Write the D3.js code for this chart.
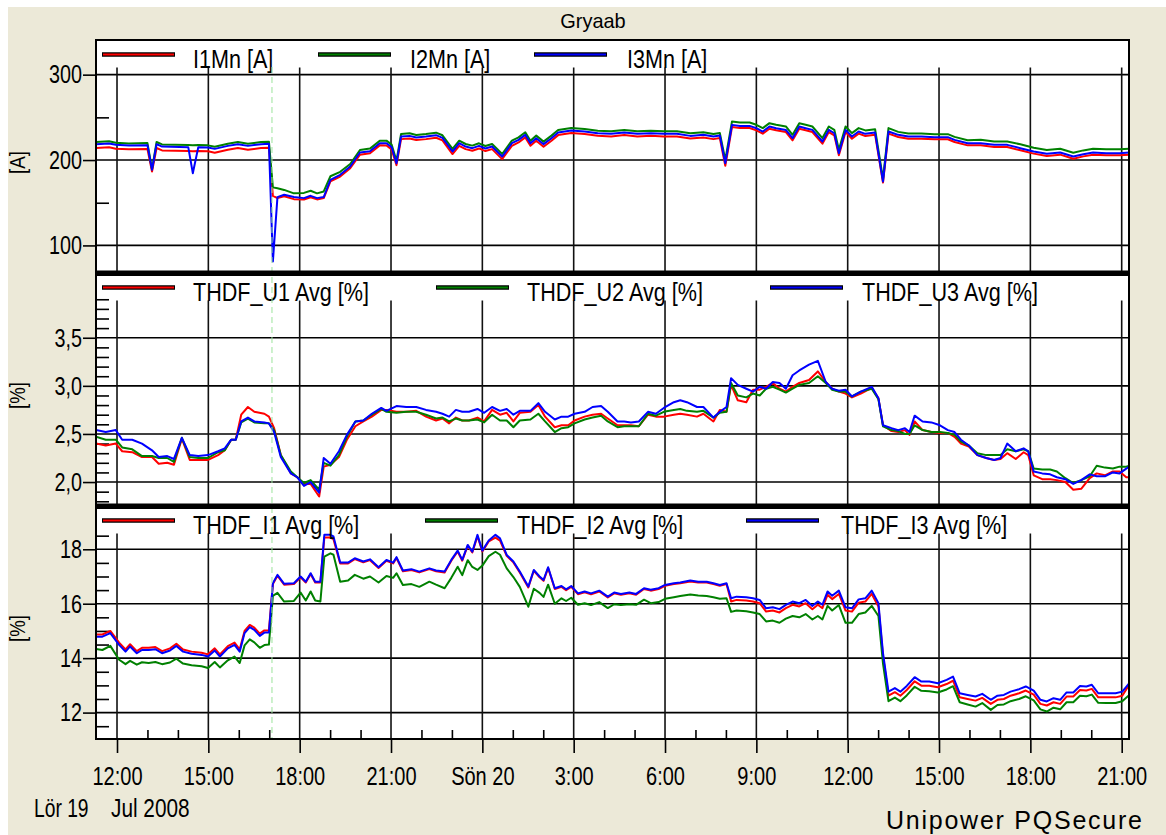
<!DOCTYPE html>
<html>
<head>
<meta charset="utf-8">
<script src="https://cdn.jsdelivr.net/npm/d3@7"></script>
<style>
  html, body { margin: 0; padding: 0; background: #fff; }
  svg { display: block; }
  text { font-family: "Liberation Sans", Arial, sans-serif; fill: #000; }
</style>
</head>
<body>
<svg id="chart" width="1166" height="835"></svg>
<script>
// hours are counted from Lör 19 Jul 2008 12:00
const xTickHours = [0, 3, 6, 9, 12, 15, 18, 21, 24, 27, 30, 33];
const xTickLabels = ["12:00", "15:00", "18:00", "21:00", "Sön 20", "3:00", "6:00", "9:00", "12:00", "15:00", "18:00", "21:00"];
const cursorHour = 5.09;

// panel 1: I1Mn / I2Mn / I3Mn [A]
const p1Names = ["I1Mn [A]", "I2Mn [A]", "I3Mn [A]"];
const p1Major = [100, 200, 300];
const p1Minor = [150, 250];
const p1Hours = [-0.69,-0.26,-0.04,0.39,1.00,1.15,1.30,1.48,2.34,2.49,
  2.67,2.99,3.21,3.64,3.97,4.30,4.73,4.99,5.12,5.27,
  5.49,5.81,6.14,6.36,6.57,6.79,7.01,7.33,7.66,7.98,
  8.31,8.63,8.85,9.02,9.18,9.33,9.61,9.83,10.15,10.48,
  10.69,11.02,11.24,11.45,11.67,11.89,12.10,12.32,12.65,12.97,
  13.19,13.41,13.58,13.77,14.01,14.27,14.49,14.92,15.36,15.79,
  16.23,16.66,17.09,17.53,17.96,18.39,18.83,19.26,19.59,19.80,
  19.98,20.20,20.46,20.78,21.00,21.21,21.43,21.65,21.97,22.19,
  22.41,22.62,22.84,23.17,23.38,23.56,23.71,23.93,24.14,24.36,
  24.58,24.90,25.16,25.34,25.66,25.99,26.42,26.85,27.29,27.51,
  27.94,28.37,28.81,29.24,29.67,30.11,30.54,30.98,31.41,31.74,
  32.06,32.49,32.93,33.25];
const p1I1 = [214.1,214.9,213.3,212.5,212.9,186.6,214.1,211.3,210.6,210.4,
  210.6,210.2,208.6,212.1,214.1,212.1,214.1,214.5,158.0,155.4,
  157.5,154.2,153.8,156.5,153.9,155.4,175.0,180.7,190.4,206.3,
  207.9,217.2,217.0,212.3,194.0,224.5,225.3,223.4,224.5,226.1,
  223.0,207.0,216.7,212.8,210.9,213.6,210.5,212.8,201.1,216.7,
  220.6,226.5,216.7,222.6,215.6,222.6,229.2,231.6,230.4,228.4,
  227.7,229.2,227.7,228.4,227.7,227.7,225.3,226.5,224.5,225.7,
  193.3,238.7,237.5,237.5,234.8,230.9,236.7,234.8,232.8,223.1,
  236.7,234.8,232.8,219.2,232.8,228.9,205.5,232.8,225.0,230.9,
  228.2,229.7,173.6,230.9,227.0,225.0,225.0,224.3,224.3,221.1,
  217.2,217.2,215.3,215.3,211.4,207.5,204.8,206.3,201.6,204.3,
  206.3,205.5,205.5,206.3];
const p1I2 = [221.1,221.9,220.3,219.5,219.9,189.3,221.1,218.3,217.6,217.4,
  217.6,217.2,215.6,219.1,221.1,219.1,221.1,221.5,168.0,166.9,
  165.0,161.0,161.5,164.0,161.0,163.2,181.0,186.2,195.4,211.8,
  213.4,222.7,222.7,218.1,199.0,230.5,231.3,229.4,230.5,232.1,
  229.0,213.0,222.7,218.8,216.9,219.6,216.5,218.8,207.1,222.7,
  226.6,232.5,222.7,228.6,221.6,228.6,235.2,237.6,236.4,234.4,
  233.7,235.2,233.7,234.4,233.7,233.7,231.3,232.5,230.5,231.7,
  200.0,245.2,244.0,244.0,241.3,237.4,243.2,241.3,239.3,229.6,
  243.2,241.3,239.3,225.7,239.3,235.4,212.0,239.3,231.5,237.4,
  234.7,236.2,178.0,237.4,233.0,231.0,231.0,230.3,230.3,227.1,
  223.2,223.7,221.8,221.8,218.4,214.5,211.8,213.3,208.6,211.3,
  213.3,212.5,212.5,213.3];
const p1I3 = [218.6,219.4,217.8,217.0,217.4,188.5,218.6,215.8,215.1,184.6,
  215.1,214.7,213.1,216.6,218.6,216.6,218.6,219.0,81.3,156.6,
  159.3,156.6,155.4,158.1,155.4,156.6,176.8,182.7,192.4,208.8,
  210.4,219.7,219.7,215.1,196.3,227.5,228.3,226.4,227.5,229.1,
  226.0,210.0,219.7,215.8,213.9,216.6,213.5,215.8,204.1,219.7,
  223.6,229.5,219.7,225.6,218.6,225.6,232.2,234.6,233.4,231.4,
  230.7,232.2,230.7,231.4,230.7,230.7,228.3,229.5,227.5,228.7,
  196.3,241.2,240.0,240.0,237.3,233.4,239.2,237.3,235.3,225.6,
  239.2,237.3,235.3,221.7,235.3,231.4,208.0,235.3,227.5,233.4,
  230.7,232.2,174.9,233.4,229.5,227.5,227.5,226.8,226.8,223.6,
  219.7,219.7,217.8,217.8,213.9,210.0,207.3,208.8,204.1,206.8,
  208.8,208.0,208.0,208.8];

// panel 2: THDF_U1..U3 Avg [%]
const p2Names = ["THDF_U1 Avg [%]", "THDF_U2 Avg [%]", "THDF_U3 Avg [%]"];
const p2Major = [2.0, 2.5, 3.0, 3.5];
const p2Minor = [1.8,1.9,2.1,2.2,2.3,2.4,2.6,2.7,2.8,2.9,3.1,3.2,3.3,3.4,3.6,3.7,3.8,3.9,4.0,4.1];
const p2Hours = [-0.69,-0.37,-0.04,0.17,0.50,0.82,1.15,1.37,1.65,1.87,
  2.13,2.39,2.67,2.99,3.32,3.54,3.75,3.90,4.08,4.30,
  4.51,4.84,4.99,5.16,5.38,5.71,5.92,6.14,6.36,6.64,
  6.79,7.01,7.29,7.55,7.83,8.09,8.37,8.68,8.85,9.18,
  9.50,9.83,10.15,10.48,10.69,10.91,11.13,11.34,11.56,11.84,
  12.06,12.32,12.58,12.80,13.02,13.23,13.58,13.84,14.06,14.38,
  14.60,14.82,15.03,15.36,15.62,15.90,16.12,16.44,16.66,16.88,
  17.14,17.44,17.70,17.96,18.29,18.50,18.72,19.05,19.26,19.59,
  19.80,20.02,20.17,20.39,20.67,20.89,21.11,21.32,21.54,21.76,
  21.97,22.19,22.41,22.73,23.02,23.28,23.49,23.71,23.93,24.14,
  24.43,24.79,25.01,25.16,25.44,25.66,25.88,26.03,26.20,26.46,
  26.75,27.03,27.29,27.51,27.72,27.98,28.26,28.55,28.81,29.02,
  29.24,29.52,29.78,29.93,30.11,30.39,30.65,30.87,31.15,31.41,
  31.67,31.95,32.18,32.45,32.71,32.93,33.15,33.25];
const p2U1 = [2.40,2.38,2.40,2.32,2.31,2.26,2.26,2.19,2.20,2.18,
  2.45,2.23,2.23,2.23,2.28,2.33,2.44,2.44,2.70,2.78,
  2.73,2.71,2.68,2.56,2.28,2.09,2.05,1.98,1.98,1.85,
  2.16,2.18,2.26,2.44,2.58,2.63,2.68,2.75,2.75,2.73,
  2.73,2.74,2.68,2.64,2.66,2.61,2.67,2.64,2.64,2.67,
  2.63,2.75,2.70,2.72,2.63,2.72,2.73,2.80,2.68,2.57,
  2.59,2.59,2.64,2.68,2.70,2.71,2.66,2.59,2.59,2.59,
  2.58,2.70,2.68,2.68,2.70,2.71,2.70,2.68,2.71,2.63,
  2.75,2.73,3.01,2.85,2.83,2.96,2.96,2.99,3.03,2.97,
  2.94,2.99,3.03,3.06,3.15,3.04,2.97,2.94,2.92,2.88,
  2.92,2.98,2.87,2.59,2.53,2.52,2.54,2.49,2.63,2.54,
  2.52,2.51,2.51,2.47,2.40,2.37,2.28,2.25,2.23,2.24,
  2.30,2.24,2.31,2.28,2.07,2.03,2.03,2.02,2.00,1.92,
  1.93,2.04,2.09,2.07,2.11,2.11,2.05,2.05];
const p2U2 = [2.47,2.44,2.44,2.36,2.34,2.27,2.27,2.25,2.25,2.21,
  2.46,2.26,2.25,2.25,2.31,2.33,2.44,2.44,2.62,2.66,
  2.62,2.61,2.61,2.54,2.28,2.11,2.05,1.99,2.02,1.92,
  2.20,2.17,2.28,2.47,2.63,2.64,2.70,2.76,2.73,2.72,
  2.73,2.73,2.70,2.66,2.67,2.63,2.66,2.64,2.64,2.65,
  2.62,2.70,2.64,2.64,2.57,2.64,2.65,2.71,2.63,2.52,
  2.56,2.57,2.61,2.65,2.67,2.69,2.63,2.57,2.58,2.58,
  2.58,2.71,2.69,2.73,2.75,2.76,2.74,2.73,2.74,2.67,
  2.72,2.73,3.03,2.90,2.88,2.92,2.90,2.97,2.99,2.96,
  2.93,2.97,3.01,3.03,3.10,3.03,2.96,2.94,2.94,2.89,
  2.94,2.97,2.86,2.58,2.54,2.53,2.50,2.50,2.59,2.54,
  2.52,2.52,2.51,2.49,2.42,2.38,2.30,2.28,2.28,2.28,
  2.34,2.32,2.34,2.32,2.14,2.13,2.13,2.11,2.04,1.99,
  2.02,2.06,2.17,2.15,2.14,2.16,2.16,2.17];
const p2U3 = [2.54,2.52,2.54,2.44,2.44,2.40,2.33,2.26,2.27,2.24,
  2.46,2.28,2.27,2.28,2.32,2.35,2.44,2.44,2.63,2.67,
  2.63,2.62,2.61,2.52,2.26,2.09,2.05,1.96,2.00,1.89,
  2.25,2.19,2.32,2.49,2.63,2.64,2.71,2.77,2.74,2.79,
  2.78,2.78,2.75,2.73,2.71,2.68,2.75,2.73,2.73,2.76,
  2.72,2.78,2.74,2.76,2.70,2.74,2.74,2.82,2.73,2.65,
  2.68,2.68,2.71,2.73,2.78,2.79,2.73,2.63,2.63,2.62,
  2.63,2.73,2.71,2.77,2.83,2.85,2.83,2.78,2.78,2.67,
  2.73,2.78,3.08,3.01,2.97,2.94,2.99,2.97,3.04,3.03,
  2.97,3.11,3.16,3.22,3.26,3.04,2.97,2.95,2.96,2.89,
  2.94,2.99,2.87,2.59,2.56,2.54,2.56,2.52,2.69,2.63,
  2.62,2.59,2.54,2.52,2.44,2.38,2.28,2.25,2.23,2.25,
  2.40,2.32,2.35,2.32,2.11,2.09,2.08,2.05,2.03,1.98,
  2.02,2.08,2.06,2.06,2.10,2.09,2.14,2.16];

// panel 3: THDF_I1..I3 Avg [%]
const p3Names = ["THDF_I1 Avg [%]", "THDF_I2 Avg [%]", "THDF_I3 Avg [%]"];
const p3Major = [12, 14, 16, 18];
const p3Minor = [11.5,12.5,13,13.5,14.5,15,15.5,16.5,17,17.5,18.5,19,19.5];
const p3Hours = [-0.69,-0.48,-0.22,0.07,0.28,0.43,0.65,0.82,1.04,1.26,
  1.48,1.74,1.95,2.17,2.45,2.78,2.99,3.21,3.38,3.64,
  3.86,4.03,4.19,4.36,4.51,4.69,4.84,4.99,5.12,5.27,
  5.49,5.81,6.03,6.20,6.36,6.51,6.68,6.81,7.01,7.11,
  7.33,7.59,7.81,8.09,8.31,8.59,8.85,9.07,9.18,9.39,
  9.67,9.93,10.26,10.48,10.76,10.98,11.19,11.34,11.52,11.67,
  11.84,12.00,12.21,12.43,12.58,12.80,13.02,13.23,13.51,13.69,
  13.88,14.01,14.16,14.38,14.60,14.75,14.92,15.14,15.36,15.57,
  15.84,16.12,16.33,16.55,16.83,17.05,17.31,17.53,17.79,18.00,
  18.29,18.50,18.83,19.09,19.37,19.59,19.80,20.02,20.17,20.35,
  20.67,20.89,21.11,21.32,21.54,21.76,21.97,22.19,22.41,22.62,
  22.84,23.02,23.17,23.34,23.49,23.71,23.93,24.14,24.36,24.58,
  24.79,25.01,25.16,25.34,25.55,25.73,25.94,26.20,26.42,26.68,
  26.96,27.25,27.46,27.68,27.94,28.20,28.42,28.70,28.92,29.13,
  29.35,29.63,29.85,30.11,30.33,30.54,30.76,30.98,31.19,31.41,
  31.63,31.84,32.02,32.23,32.49,32.80,33.02,33.25];
const p3I1 = [14.87,14.87,15.00,14.57,14.32,14.51,14.26,14.38,14.38,14.41,
  14.26,14.36,14.53,14.32,14.24,14.20,14.14,14.36,14.14,14.44,
  14.57,14.32,15.00,15.22,15.12,14.90,15.02,15.02,16.72,17.03,
  16.70,16.72,16.97,16.78,17.09,16.78,16.78,18.43,18.43,18.37,
  17.48,17.48,17.64,17.52,17.60,17.31,17.58,17.48,17.68,17.19,
  17.24,17.15,17.27,17.19,17.15,17.58,17.92,17.58,18.13,17.88,
  18.48,17.92,18.29,18.43,18.32,17.76,17.52,17.15,16.60,17.21,
  16.97,16.84,17.31,16.54,16.62,16.50,16.62,16.35,16.42,16.35,
  16.45,16.23,16.38,16.33,16.38,16.33,16.54,16.48,16.54,16.66,
  16.72,16.75,16.82,16.78,16.78,16.72,16.66,16.72,16.08,16.14,
  16.12,16.08,16.02,15.71,15.75,15.68,15.84,15.96,15.90,16.02,
  15.80,15.96,15.84,16.33,16.17,16.36,15.75,15.71,16.04,16.08,
  16.36,15.90,14.08,12.62,12.75,12.62,12.83,13.15,12.99,12.99,
  12.93,13.05,13.17,12.56,12.50,12.44,12.54,12.32,12.47,12.50,
  12.62,12.71,12.81,12.66,12.32,12.26,12.38,12.32,12.59,12.59,
  12.83,12.81,12.87,12.56,12.56,12.56,12.62,13.03];
const p3I2 = [14.34,14.30,14.45,13.94,13.78,13.90,13.76,13.85,13.82,13.86,
  13.78,13.84,13.98,13.80,13.74,13.70,13.64,13.86,13.66,13.92,
  14.06,13.82,14.47,14.69,14.58,14.38,14.48,14.50,16.29,16.40,
  16.08,16.10,16.41,16.12,16.45,16.12,16.08,17.73,17.85,17.80,
  16.81,16.85,17.06,16.92,17.00,16.78,17.02,16.95,17.12,16.69,
  16.72,16.62,16.81,16.70,16.57,16.95,17.36,17.05,17.60,17.35,
  17.24,17.40,17.75,17.91,17.80,17.30,16.98,16.62,15.89,16.55,
  16.40,16.25,16.70,16.00,16.20,16.10,16.22,15.96,16.02,15.95,
  16.06,15.84,15.98,15.95,15.98,15.96,16.15,16.02,16.06,16.18,
  16.24,16.28,16.34,16.30,16.28,16.24,16.18,16.20,15.70,15.75,
  15.72,15.68,15.62,15.35,15.38,15.30,15.45,15.55,15.50,15.62,
  15.42,15.55,15.42,15.92,15.75,15.95,15.30,15.30,15.62,15.68,
  15.92,15.55,13.80,12.42,12.55,12.42,12.63,12.95,12.80,12.78,
  12.74,12.85,12.97,12.38,12.30,12.22,12.35,12.10,12.28,12.30,
  12.42,12.50,12.60,12.45,12.12,12.04,12.18,12.12,12.38,12.38,
  12.62,12.60,12.66,12.36,12.35,12.35,12.42,12.65];
const p3I3 = [14.79,14.79,14.92,14.49,14.24,14.43,14.18,14.30,14.30,14.33,
  14.18,14.28,14.45,14.24,14.16,14.12,14.06,14.28,14.06,14.36,
  14.49,14.24,14.92,15.14,15.04,14.82,14.94,14.94,16.75,17.06,
  16.73,16.75,17.00,16.81,17.12,16.81,16.81,18.53,18.53,18.47,
  17.51,17.51,17.67,17.55,17.63,17.34,17.61,17.51,17.71,17.22,
  17.27,17.18,17.30,17.22,17.18,17.61,17.95,17.61,18.16,17.91,
  18.53,17.95,18.32,18.53,18.40,17.79,17.55,17.18,16.63,17.24,
  17.00,16.87,17.34,16.57,16.65,16.53,16.65,16.38,16.45,16.38,
  16.48,16.26,16.41,16.36,16.41,16.36,16.57,16.51,16.57,16.69,
  16.75,16.78,16.85,16.81,16.81,16.75,16.69,16.75,16.20,16.26,
  16.24,16.20,16.14,15.83,15.87,15.80,15.96,16.08,16.02,16.14,
  15.92,16.08,15.96,16.45,16.29,16.48,15.87,15.83,16.16,16.20,
  16.48,16.02,14.18,12.77,12.90,12.77,12.98,13.30,13.14,13.14,
  13.08,13.20,13.32,12.71,12.65,12.59,12.69,12.47,12.62,12.65,
  12.77,12.86,12.96,12.81,12.47,12.41,12.53,12.47,12.74,12.74,
  12.98,12.96,13.02,12.71,12.71,12.71,12.77,13.08];

const seriesColors = ["#ff0000", "#008000", "#0000ff"];

// ---------------------------------------------------------------
const t0 = new Date(2008, 6, 19, 12, 0);
const toDate = h => new Date(+t0 + h * 3600e3);

const plot = {left: 96, right: 1129, top: 40, bottom: 739};
const x = d3.scaleTime()
  .domain([toDate(-0.69), toDate(33.24)])
  .range([plot.left, plot.right]);

const comma = d3.format(".1f");
const panels = [
  {top: 40, bottom: 273, domain: [67.7, 340.6], hours: p1Hours, series: [p1I1, p1I2, p1I3],
   names: p1Names, major: p1Major, minor: p1Minor, fmt: d => d, unit: "[A]",
   lineX: [102, 318, 534], textX: [193, 410, 627]},
  {top: 273, bottom: 506, domain: [1.751, 4.173], hours: p2Hours, series: [p2U1, p2U2, p2U3],
   names: p2Names, major: p2Major, minor: p2Minor, fmt: d => comma(d).replace(".", ","), unit: "[%]",
   lineX: [102, 436, 770], textX: [193, 527, 862]},
  {top: 506, bottom: 739, domain: [11.03, 19.59], hours: p3Hours, series: [p3I1, p3I2, p3I3],
   names: p3Names, major: p3Major, minor: p3Minor, fmt: d => d, unit: "[%]",
   lineX: [102, 425, 746], textX: [193, 517, 841]}
];

// squeeze text horizontally, the original uses a narrow GDI rendering
function squeeze(sel, k) {
  sel.each(function() {
    const w = this.getComputedTextLength();
    d3.select(this).attr("textLength", w * k).attr("lengthAdjust", "spacingAndGlyphs");
  });
}

const svg = d3.select("#chart");
svg.append("rect").attr("x", 8).attr("y", 7).attr("width", 1158).attr("height", 828).attr("fill", "#ece9d8");

svg.append("text")
  .attr("x", 593).attr("y", 28)
  .attr("text-anchor", "middle")
  .style("font-size", "21px")
  .text("Gryaab")
  .call(squeeze, 0.95);

svg.append("rect")
  .attr("x", plot.left).attr("y", plot.top)
  .attr("width", plot.right - plot.left).attr("height", plot.bottom - plot.top)
  .attr("fill", "#fff");

panels.forEach((p, pi) => {
  const y = d3.scaleLinear().domain(p.domain).range([p.bottom, p.top]);
  const band = p.top + 27.5;
  const g = svg.append("g");

  // horizontal grid
  g.selectAll(".hgrid").data(p.major).join("line")
    .attr("x1", plot.left).attr("x2", plot.right)
    .attr("y1", d => y(d)).attr("y2", d => y(d))
    .attr("stroke", "#000").attr("stroke-width", 1.6);

  // vertical grid, below the legend band
  g.selectAll(".vgrid").data(xTickHours).join("line")
    .attr("x1", d => x(toDate(d))).attr("x2", d => x(toDate(d)))
    .attr("y1", band).attr("y2", p.bottom)
    .attr("stroke", "#111").attr("stroke-width", 1.6);

  // minor ticks inside
  const minorAxis = g.append("g")
    .attr("transform", `translate(${plot.left},0)`)
    .call(d3.axisRight(y).tickValues(p.minor.filter(v => y(v) >= band - 2 && y(v) <= p.bottom)).tickSize(13).tickFormat(""));
  minorAxis.select(".domain").remove();
  minorAxis.selectAll("line").attr("stroke", "#000").attr("stroke-width", 1.6);

  // major ticks and labels outside
  const majorAxis = g.append("g")
    .attr("transform", `translate(${plot.left},0)`)
    .call(d3.axisLeft(y).tickValues(p.major).tickSize(13).tickPadding(1).tickFormat(p.fmt));
  majorAxis.select(".domain").remove();
  majorAxis.selectAll("line").attr("stroke", "#000").attr("stroke-width", 1.6);
  majorAxis.selectAll("text")
    .attr("fill", "#000")
    .style("font-size", "26px")
    .style("font-family", "'Liberation Sans', Arial, sans-serif")
    .call(squeeze, 0.76);

  // unit label
  svg.append("text")
    .attr("transform", `translate(25,${(p.top + p.bottom) / 2 + 6}) rotate(-90)`)
    .attr("text-anchor", "middle")
    .style("font-size", "22px")
    .text(p.unit)
    .call(squeeze, 0.85);

  // series
  const clipId = `clip${pi}`;
  svg.append("clipPath").attr("id", clipId)
    .append("rect").attr("x", plot.left).attr("y", p.top)
    .attr("width", plot.right - plot.left).attr("height", p.bottom - p.top);

  const line = d3.line()
    .x(d => x(toDate(d[0])))
    .y(d => y(d[1]));

  p.series.forEach((vals, si) => {
    const data = p.hours.map((h, i) => [h, vals[i]]);
    svg.append("path")
      .datum(data)
      .attr("clip-path", `url(#${clipId})`)
      .attr("fill", "none")
      .attr("stroke", seriesColors[si])
      .attr("stroke-width", 2)
      .attr("stroke-linejoin", "round")
      .attr("d", line);
  });

  // legend
  p.names.forEach((name, si) => {
    const ly = p.top + 14.5;
    svg.append("line")
      .attr("x1", p.lineX[si]).attr("x2", p.lineX[si] + 73)
      .attr("y1", ly).attr("y2", ly)
      .attr("stroke", "#000").attr("stroke-width", 4.5);
    svg.append("line")
      .attr("x1", p.lineX[si] + 1).attr("x2", p.lineX[si] + 72)
      .attr("y1", ly).attr("y2", ly)
      .attr("stroke", seriesColors[si]).attr("stroke-width", 1.8);
    svg.append("text")
      .attr("x", p.textX[si]).attr("y", p.top + 27.5)
      .style("font-size", "26px")
      .text(name)
      .call(squeeze, 0.83);
  });
});

// cursor line
svg.append("line")
  .attr("x1", x(toDate(cursorHour))).attr("x2", x(toDate(cursorHour)))
  .attr("y1", 67).attr("y2", plot.bottom)
  .attr("stroke", "#9be39b").attr("stroke-width", 1)
  .attr("stroke-dasharray", "6,4");

// panel separators and frame
[273.3, 506.3].forEach(yy => {
  svg.append("line")
    .attr("x1", plot.left).attr("x2", plot.right)
    .attr("y1", yy).attr("y2", yy)
    .attr("stroke", "#000").attr("stroke-width", 5.5);
});
svg.append("rect")
  .attr("x", plot.left).attr("y", plot.top)
  .attr("width", plot.right - plot.left).attr("height", plot.bottom - plot.top)
  .attr("fill", "none").attr("stroke", "#000").attr("stroke-width", 2);

// x axis
const hourTicks = d3.range(0, 34).filter(h => h % 3 !== 0).map(toDate);
const xMinor = svg.append("g")
  .attr("transform", `translate(0,${plot.bottom})`)
  .call(d3.axisBottom(x).tickValues(hourTicks).tickSize(-9).tickFormat(""));
xMinor.select(".domain").remove();
xMinor.selectAll("line").attr("stroke", "#000").attr("stroke-width", 1.6);

const xMajor = svg.append("g")
  .attr("transform", `translate(0,${plot.bottom})`)
  .call(d3.axisBottom(x).tickValues(xTickHours.map(toDate)).tickSize(14).tickFormat((d, i) => xTickLabels[i]));
xMajor.select(".domain").remove();
xMajor.selectAll("line").attr("stroke", "#000").attr("stroke-width", 1.6);
xMajor.selectAll("text")
  .attr("y", 46).attr("dy", null)
  .attr("fill", "#000")
  .style("font-size", "26px")
  .style("font-family", "'Liberation Sans', Arial, sans-serif")
  .call(squeeze, 0.77);

svg.append("text").attr("x", 34).attr("y", 817)
  .style("font-size", "26px").text("Lör 19").call(squeeze, 0.74);
svg.append("text").attr("x", 111).attr("y", 817)
  .style("font-size", "26px").text("Jul 2008").call(squeeze, 0.8);

svg.append("text")
  .attr("x", 886).attr("y", 829)
  .style("font-size", "25px")
  .attr("textLength", 256).attr("lengthAdjust", "spacing")
  .text("Unipower PQSecure");
</script>
</body>
</html>
